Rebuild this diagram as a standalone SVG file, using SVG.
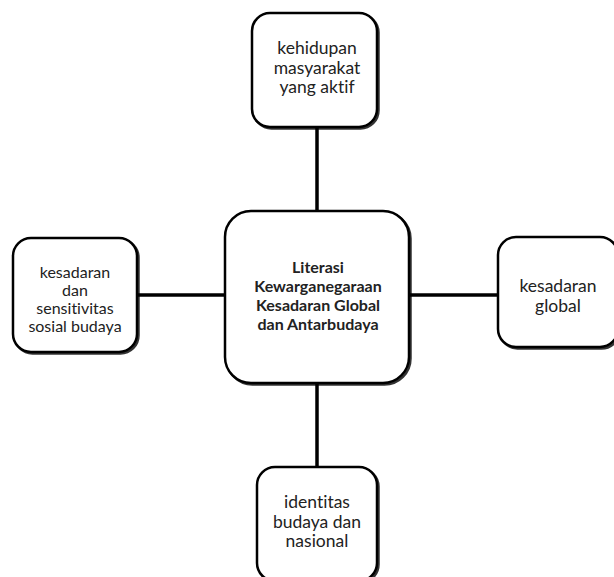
<svg xmlns="http://www.w3.org/2000/svg" width="614" height="577" viewBox="0 0 614 577">
<style>
.box{fill:#fff;stroke:#000;stroke-width:2.5}
.shadow{fill:none;stroke:#000;stroke-width:2.5;opacity:0.8}
.t{font-family:Lato,"Liberation Sans",sans-serif;fill:#222;text-anchor:middle;font-variant-ligatures:none}
.s{font-size:17.5px}
.l{font-size:16px}
.b{font-size:16px;font-weight:bold}
.c{stroke:#000;stroke-width:3.5;fill:none}
</style>
<rect width="614" height="577" fill="#fff"/>
<g id="connectors">
<line class="c" x1="317" y1="127" x2="317" y2="211"/>
<line class="c" x1="317" y1="383" x2="317" y2="467"/>
<line class="c" x1="137" y1="295" x2="225" y2="295"/>
<line class="c" x1="409" y1="295" x2="498" y2="295"/>
</g>
<g id="top">
<rect class="shadow" x="253.5" y="14.5" width="125" height="114" rx="18"/>
<rect class="box" x="252" y="13" width="125" height="114" rx="18"/>
<text class="t s" x="317" y="54">kehidupan</text>
<text class="t s" x="317" y="73.5">masyarakat</text>
<text class="t s" x="317" y="93">yang aktif</text>
</g>
<g id="left">
<rect class="shadow" x="14.5" y="239.5" width="124" height="114" rx="18"/>
<rect class="box" x="13" y="238" width="124" height="114" rx="18"/>
<text class="t l" x="75" y="278">kesadaran</text>
<text class="t l" x="75" y="296">dan</text>
<text class="t l" x="75" y="314">sensitivitas</text>
<text class="t l" x="75" y="332">sosial budaya</text>
</g>
<g id="center">
<rect class="shadow" x="226.5" y="212.5" width="184" height="172" rx="26"/>
<rect class="box" x="225" y="211" width="184" height="172" rx="26"/>
<text class="t b" x="318" y="273">Literasi</text>
<text class="t b" x="318" y="292">Kewarganegaraan</text>
<text class="t b" x="318" y="311">Kesadaran Global</text>
<text class="t b" x="318" y="330">dan Antarbudaya</text>
</g>
<g id="right">
<rect class="shadow" x="499.5" y="238.5" width="120" height="110" rx="18"/>
<rect class="box" x="498" y="237" width="120" height="110" rx="18"/>
<text class="t s" x="558" y="292">kesadaran</text>
<text class="t s" x="558" y="312">global</text>
</g>
<g id="bottom">
<rect class="shadow" x="258.5" y="468.5" width="120" height="114" rx="18"/>
<rect class="box" x="257" y="467" width="120" height="114" rx="18"/>
<text class="t s" x="317" y="508">identitas</text>
<text class="t s" x="317" y="527.5">budaya dan</text>
<text class="t s" x="317" y="547">nasional</text>
</g>
</svg>
